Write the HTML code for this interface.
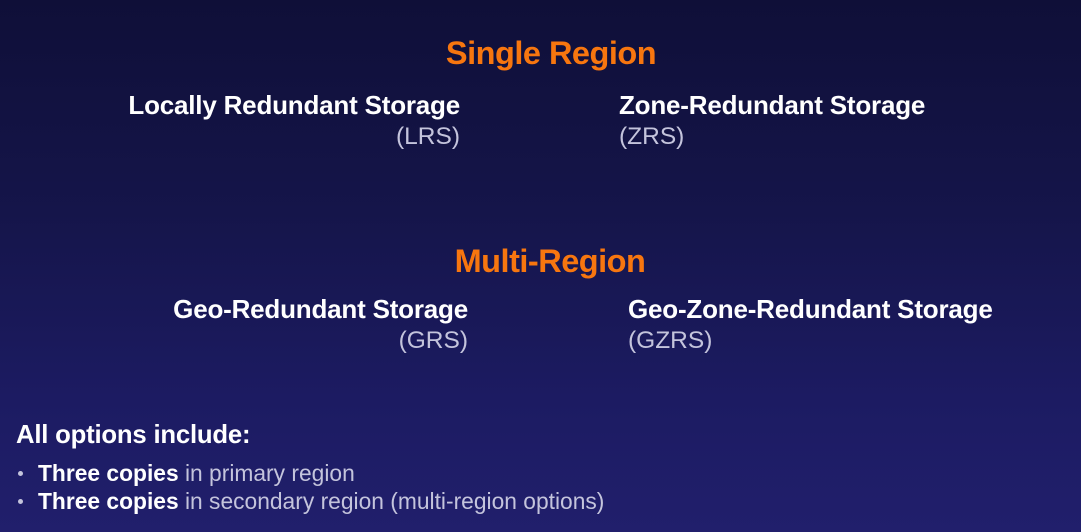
<!DOCTYPE html>
<html><head><meta charset="utf-8"><style>
html,body{margin:0;padding:0}
body{width:1081px;height:532px;overflow:hidden;position:relative;font-family:"Liberation Sans",sans-serif;
background:linear-gradient(180deg,#0f0f38 0%,#15154a 40%,#1c1b62 75%,#211f6c 100%);}
.t{position:absolute;white-space:nowrap;line-height:1}
.title{color:#f7760f;font-weight:bold;font-size:32.5px;letter-spacing:-0.5px}
.h{color:#fff;font-weight:bold;font-size:26px;letter-spacing:-0.2px}
.s{color:#c4c4dc;font-size:24.5px}
.r{text-align:right}
.b{color:#c4c4dc;font-size:22.8px}
.b b{color:#fff}
.dot{position:absolute;width:5px;height:5px;border-radius:50%;background:#c4c4dc}
</style></head><body>
<div class="t title" style="left:401px;top:37px;width:300px;text-align:center">Single Region</div>
<div class="t h r" style="right:621px;top:92px">Locally Redundant Storage</div>
<div class="t s r" style="right:621px;top:125px">(LRS)</div>
<div class="t h" style="left:619px;top:92px">Zone-Redundant Storage</div>
<div class="t s" style="left:619px;top:125px">(ZRS)</div>

<div class="t title" style="left:400px;top:245px;width:300px;text-align:center">Multi-Region</div>
<div class="t h r" style="right:613px;top:296px">Geo-Redundant Storage</div>
<div class="t s r" style="right:613px;top:329px">(GRS)</div>
<div class="t h" style="left:628px;top:296px">Geo-Zone-Redundant Storage</div>
<div class="t s" style="left:628px;top:329px">(GZRS)</div>

<div class="t h" style="left:16px;top:423px;font-size:25.7px">All options include:</div>
<div class="dot" style="left:18px;top:471px"></div>
<div class="t b" style="left:38px;top:462px"><b>Three copies</b> in primary region</div>
<div class="dot" style="left:18px;top:499px"></div>
<div class="t b" style="left:38px;top:490px"><b>Three copies</b> in secondary region (multi-region options)</div>
</body></html>
